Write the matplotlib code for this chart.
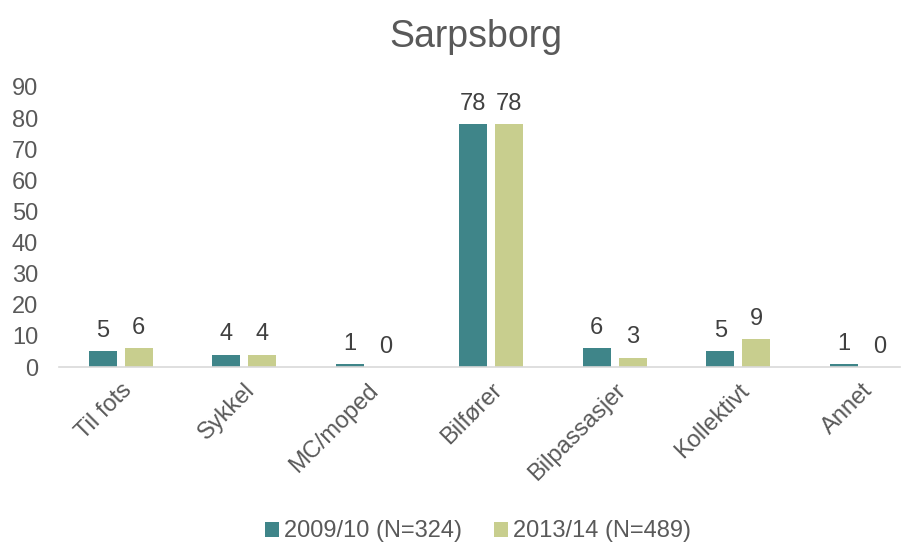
import numpy as np
import matplotlib.pyplot as plt

plt.rcParams['font.family'] = ['Liberation Sans', 'DejaVu Sans']

categories = ['Til fots', 'Sykkel', 'MC/moped', 'Bilfører', 'Bilpassasjer', 'Kollektivt', 'Annet']
series_names = ['2009/10 (N=324)', '2013/14 (N=489)']
v2009 = [5, 4, 1, 78, 6, 5, 1]
v2013 = [6, 4, 0, 78, 3, 9, 0]
colors = ['#3F8589', '#C8CE8E']
grey = '#595959'

fig = plt.figure(figsize=(9.14, 5.42), dpi=100)
ax = fig.add_axes([59 / 914, 175 / 542, 841 / 914, 280 / 542])

x = np.arange(len(categories))
w = 0.227
off = 0.146
b1 = ax.bar(x - off, v2009, w, color=colors[0], label=series_names[0])
b2 = ax.bar(x + off, v2013, w, color=colors[1], label=series_names[1])

for bars, vals in ((b1, v2009), (b2, v2013)):
    for rect, v in zip(bars, vals):
        ax.text(rect.get_x() + rect.get_width() / 2, v + 3.0, str(v),
                ha='center', va='bottom', fontsize=17, color='#404040')

ax.set_xlim(-0.5, 6.31)
ax.set_ylim(0, 90)
ax.set_yticks(range(0, 91, 10))
ax.set_xticks(x)
ax.set_xticklabels(categories, rotation=45, ha='right', rotation_mode='anchor')
ax.tick_params(axis='both', length=0, labelsize=17, colors=grey)
ax.tick_params(axis='x', pad=9)
ax.tick_params(axis='y', pad=15)
for s in ['top', 'right', 'left']:
    ax.spines[s].set_visible(False)
ax.spines['bottom'].set_color('#D9D9D9')
ax.spines['bottom'].set_linewidth(1.2)

fig.suptitle('Sarpsborg', fontsize=27, color=grey, x=0.521, y=0.965)
fig.legend(loc='lower center', ncol=2, frameon=False, fontsize=17,
           bbox_to_anchor=(0.523, -0.04), handlelength=0.6, handleheight=0.6,
           handletextpad=0.2, columnspacing=1.35, labelcolor=grey)

fig.savefig('out.png', dpi=100)
